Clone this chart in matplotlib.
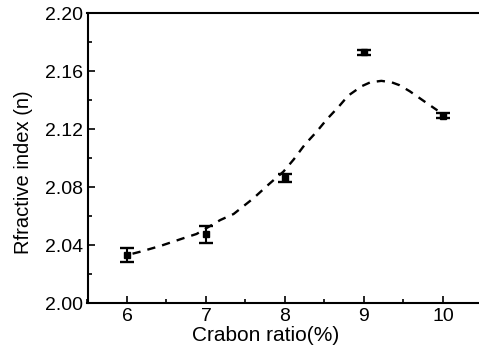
import matplotlib
matplotlib.use("Agg")
import matplotlib.pyplot as plt
from matplotlib.ticker import MultipleLocator

plt.rcParams['font.family'] = ['Liberation Sans', 'DejaVu Sans']

# measured points
carbon = [6, 7, 8, 9, 10]
n_index = [2.033, 2.0474, 2.0862, 2.173, 2.129]
n_err = [0.005, 0.0058, 0.0028, 0.0017, 0.0017]

# dashed trend curve
fit_x = [6.07, 6.17, 6.42, 6.71, 6.88, 7.18, 7.35, 7.60, 7.81, 7.98, 8.11, 8.25,
         8.40, 8.53, 8.68, 8.80, 8.97, 9.08, 9.22, 9.35, 9.45, 9.58, 9.77, 9.93]
fit_y = [2.0340, 2.0354, 2.0393, 2.0446, 2.0476, 2.0572, 2.0614, 2.0722, 2.0826, 2.0906,
         2.0990, 2.1092, 2.1181, 2.1267, 2.1354, 2.1430, 2.1495, 2.1522, 2.1532, 2.1522,
         2.1502, 2.1460, 2.1388, 2.1328]

fig = plt.figure(figsize=(4.79, 3.51), dpi=100)
ax = fig.add_axes([87.5 / 479, 48 / 351, 395 / 479, 290 / 351])

ax.plot(fit_x, fit_y, color='black', linestyle=(0, (3.5, 3)), linewidth=1.7)
ax.errorbar(carbon, n_index, yerr=n_err, fmt='s', color='black', markersize=4,
            capsize=5, capthick=1.7, elinewidth=1.5)

ax.set_xlim(5.5, 10.5)
ax.set_ylim(2.00, 2.20)
ax.xaxis.set_major_locator(MultipleLocator(1))
ax.xaxis.set_minor_locator(MultipleLocator(0.5))
ax.yaxis.set_major_locator(MultipleLocator(0.04))
ax.yaxis.set_minor_locator(MultipleLocator(0.02))
ax.yaxis.set_major_formatter(plt.FormatStrFormatter('%.2f'))
ax.tick_params(which='both', direction='in', labelsize=14, width=1.2)
ax.tick_params(which='major', length=5)
ax.tick_params(which='minor', length=3)
for s in ax.spines.values():
    s.set_linewidth(1.5)

ax.set_xlabel("Crabon ratio(%)", fontsize=15)
ax.set_ylabel("Rfractive index (n)", fontsize=14.5)
ax.xaxis.set_label_coords(0.45, -0.079)
ax.yaxis.set_label_coords(-0.138, 0.452)

fig.savefig("out.png", dpi=100)
